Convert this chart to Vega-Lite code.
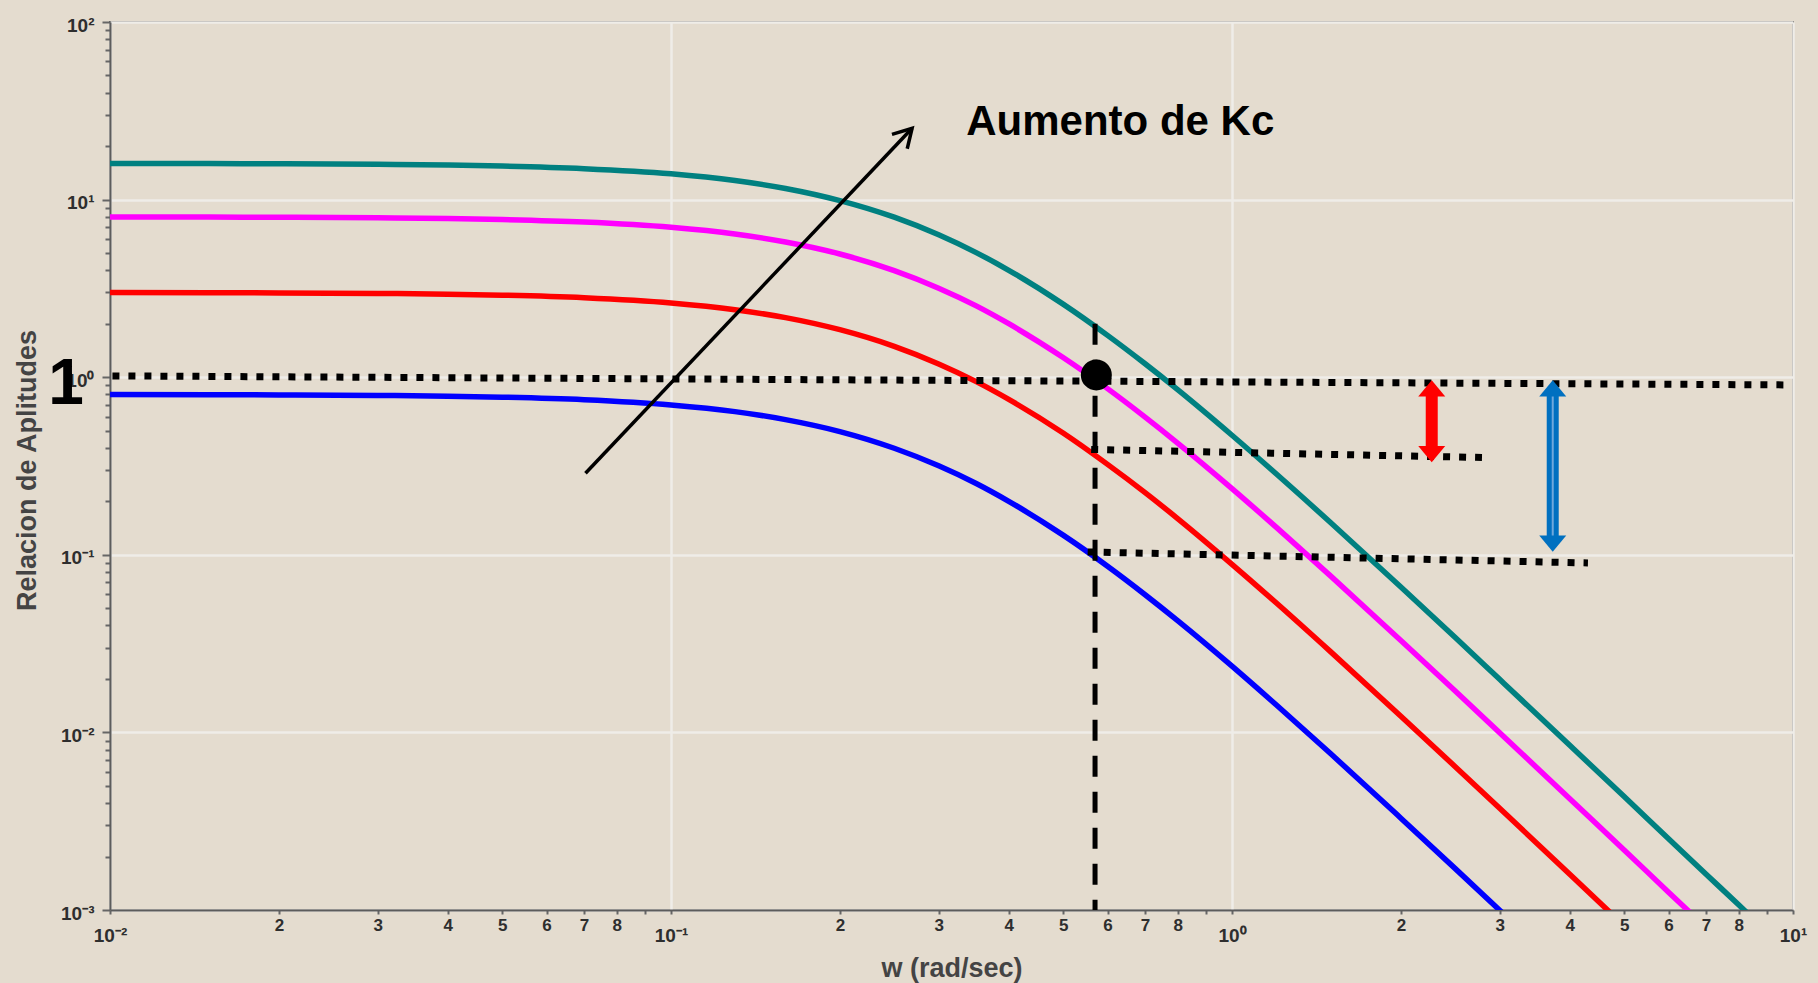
{
  "$schema": "https://vega.github.io/schema/vega-lite/v6.json",
  "width": 1683,
  "height": 888,
  "autosize": {"type": "none"},
  "padding": {"left": 110, "top": 22, "right": 25, "bottom": 73},
  "background": "#E4DCCF",
  "config": {
    "view": {"stroke": "#5c5c5c", "strokeWidth": 2, "fill": "#E4DCCF"},
    "font": "Liberation Sans"
  },
  "datasets": {
    "curvas": [
      {"w": 0.01, "ar": 0.799, "serie": "azul"}, {"w": 0.015, "ar": 0.797, "serie": "azul"}, {"w": 0.02, "ar": 0.795, "serie": "azul"}, {"w": 0.03, "ar": 0.79, "serie": "azul"}, {"w": 0.04, "ar": 0.782, "serie": "azul"}, {"w": 0.05, "ar": 0.772, "serie": "azul"}, {"w": 0.07, "ar": 0.747, "serie": "azul"}, {"w": 0.1, "ar": 0.698, "serie": "azul"}, {"w": 0.13, "ar": 0.64, "serie": "azul"}, {"w": 0.16, "ar": 0.577, "serie": "azul"}, {"w": 0.2, "ar": 0.494, "serie": "azul"}, {"w": 0.25, "ar": 0.398, "serie": "azul"}, {"w": 0.3, "ar": 0.317, "serie": "azul"}, {"w": 0.35, "ar": 0.252, "serie": "azul"}, {"w": 0.4, "ar": 0.2, "serie": "azul"}, {"w": 0.5, "ar": 0.129, "serie": "azul"}, {"w": 0.6, "ar": 0.0862, "serie": "azul"}, {"w": 0.7, "ar": 0.0596, "serie": "azul"}, {"w": 0.8, "ar": 0.0426, "serie": "azul"}, {"w": 1.0, "ar": 0.0236, "serie": "azul"}, {"w": 1.2, "ar": 0.01426, "serie": "azul"}, {"w": 1.5, "ar": 0.00758, "serie": "azul"}, {"w": 2.0, "ar": 0.00329, "serie": "azul"}, {"w": 2.5, "ar": 0.00171, "serie": "azul"}, {"w": 3.0, "ar": 0.000997, "serie": "azul"}, {"w": 3.1, "ar": 0.000904, "serie": "azul"},
      {"w": 0.01, "ar": 2.996, "serie": "rojo"}, {"w": 0.015, "ar": 2.99, "serie": "rojo"}, {"w": 0.02, "ar": 2.983, "serie": "rojo"}, {"w": 0.03, "ar": 2.962, "serie": "rojo"}, {"w": 0.04, "ar": 2.933, "serie": "rojo"}, {"w": 0.05, "ar": 2.897, "serie": "rojo"}, {"w": 0.07, "ar": 2.802, "serie": "rojo"}, {"w": 0.1, "ar": 2.619, "serie": "rojo"}, {"w": 0.13, "ar": 2.4, "serie": "rojo"}, {"w": 0.16, "ar": 2.165, "serie": "rojo"}, {"w": 0.2, "ar": 1.851, "serie": "rojo"}, {"w": 0.25, "ar": 1.492, "serie": "rojo"}, {"w": 0.3, "ar": 1.188, "serie": "rojo"}, {"w": 0.35, "ar": 0.944, "serie": "rojo"}, {"w": 0.4, "ar": 0.75, "serie": "rojo"}, {"w": 0.5, "ar": 0.485, "serie": "rojo"}, {"w": 0.6, "ar": 0.323, "serie": "rojo"}, {"w": 0.7, "ar": 0.224, "serie": "rojo"}, {"w": 0.8, "ar": 0.16, "serie": "rojo"}, {"w": 1.0, "ar": 0.0884, "serie": "rojo"}, {"w": 1.2, "ar": 0.0535, "serie": "rojo"}, {"w": 1.5, "ar": 0.0284, "serie": "rojo"}, {"w": 2.0, "ar": 0.01234, "serie": "rojo"}, {"w": 2.5, "ar": 0.00641, "serie": "rojo"}, {"w": 3.0, "ar": 0.00374, "serie": "rojo"}, {"w": 4.0, "ar": 0.00159, "serie": "rojo"}, {"w": 5.0, "ar": 0.000816, "serie": "rojo"},
      {"w": 0.01, "ar": 7.99, "serie": "magenta"}, {"w": 0.015, "ar": 7.97, "serie": "magenta"}, {"w": 0.02, "ar": 7.95, "serie": "magenta"}, {"w": 0.03, "ar": 7.9, "serie": "magenta"}, {"w": 0.04, "ar": 7.82, "serie": "magenta"}, {"w": 0.05, "ar": 7.72, "serie": "magenta"}, {"w": 0.07, "ar": 7.47, "serie": "magenta"}, {"w": 0.1, "ar": 6.98, "serie": "magenta"}, {"w": 0.13, "ar": 6.4, "serie": "magenta"}, {"w": 0.16, "ar": 5.77, "serie": "magenta"}, {"w": 0.2, "ar": 4.94, "serie": "magenta"}, {"w": 0.25, "ar": 3.98, "serie": "magenta"}, {"w": 0.3, "ar": 3.17, "serie": "magenta"}, {"w": 0.35, "ar": 2.52, "serie": "magenta"}, {"w": 0.4, "ar": 2.0, "serie": "magenta"}, {"w": 0.5, "ar": 1.29, "serie": "magenta"}, {"w": 0.6, "ar": 0.862, "serie": "magenta"}, {"w": 0.7, "ar": 0.596, "serie": "magenta"}, {"w": 0.8, "ar": 0.426, "serie": "magenta"}, {"w": 1.0, "ar": 0.236, "serie": "magenta"}, {"w": 1.2, "ar": 0.1426, "serie": "magenta"}, {"w": 1.5, "ar": 0.0758, "serie": "magenta"}, {"w": 2.0, "ar": 0.0329, "serie": "magenta"}, {"w": 2.5, "ar": 0.0171, "serie": "magenta"}, {"w": 3.0, "ar": 0.00997, "serie": "magenta"}, {"w": 4.0, "ar": 0.00423, "serie": "magenta"}, {"w": 5.0, "ar": 0.00218, "serie": "magenta"}, {"w": 6.0, "ar": 0.00126, "serie": "magenta"}, {"w": 7.0, "ar": 0.000796, "serie": "magenta"},
      {"w": 0.01, "ar": 15.98, "serie": "verde"}, {"w": 0.015, "ar": 15.95, "serie": "verde"}, {"w": 0.02, "ar": 15.91, "serie": "verde"}, {"w": 0.03, "ar": 15.8, "serie": "verde"}, {"w": 0.04, "ar": 15.64, "serie": "verde"}, {"w": 0.05, "ar": 15.45, "serie": "verde"}, {"w": 0.07, "ar": 14.94, "serie": "verde"}, {"w": 0.1, "ar": 13.97, "serie": "verde"}, {"w": 0.13, "ar": 12.8, "serie": "verde"}, {"w": 0.16, "ar": 11.55, "serie": "verde"}, {"w": 0.2, "ar": 9.87, "serie": "verde"}, {"w": 0.25, "ar": 7.96, "serie": "verde"}, {"w": 0.3, "ar": 6.34, "serie": "verde"}, {"w": 0.35, "ar": 5.03, "serie": "verde"}, {"w": 0.4, "ar": 4.0, "serie": "verde"}, {"w": 0.5, "ar": 2.58, "serie": "verde"}, {"w": 0.6, "ar": 1.72, "serie": "verde"}, {"w": 0.7, "ar": 1.19, "serie": "verde"}, {"w": 0.8, "ar": 0.851, "serie": "verde"}, {"w": 1.0, "ar": 0.471, "serie": "verde"}, {"w": 1.2, "ar": 0.285, "serie": "verde"}, {"w": 1.5, "ar": 0.1515, "serie": "verde"}, {"w": 2.0, "ar": 0.0658, "serie": "verde"}, {"w": 2.5, "ar": 0.0342, "serie": "verde"}, {"w": 3.0, "ar": 0.0199, "serie": "verde"}, {"w": 4.0, "ar": 0.00846, "serie": "verde"}, {"w": 5.0, "ar": 0.00435, "serie": "verde"}, {"w": 6.0, "ar": 0.00252, "serie": "verde"}, {"w": 7.0, "ar": 0.00159, "serie": "verde"}, {"w": 8.0, "ar": 0.00107, "serie": "verde"}, {"w": 9.0, "ar": 0.00075, "serie": "verde"}
    ],
    "punteadas": [
      {"id": "a", "w": 0.0101, "ar": 1.017}, {"id": "a", "w": 9.7, "ar": 0.905},
      {"id": "b", "w": 0.561, "ar": 0.392}, {"id": "b", "w": 2.79, "ar": 0.353},
      {"id": "c", "w": 0.553, "ar": 0.1038}, {"id": "c", "w": 4.31, "ar": 0.09}
    ],
    "vertical": [{"w": 0.57, "ar": 2.0}, {"w": 0.57, "ar": 0.001}],
    "punto": [{"w": 0.573, "ar": 1.03}],
    "ejes": [
      {"w": 2.27, "ar": 0.8, "ar2": 0.398, "flecha": "flecha roja"},
      {"w": 3.73, "ar": 0.8, "ar2": 0.1247, "flecha": "flecha azul"}
    ],
    "puntas": [
      {"w": 2.27, "ar": 0.961, "dir": "arriba", "flecha": "flecha roja"},
      {"w": 2.27, "ar": 0.332, "dir": "abajo", "flecha": "flecha roja"},
      {"w": 3.73, "ar": 0.961, "dir": "arriba", "flecha": "flecha azul"},
      {"w": 3.73, "ar": 0.104, "dir": "abajo", "flecha": "flecha azul"}
    ],
    "flechanegra": [{"w": 0.0704, "ar": 0.288}, {"w": 0.269, "ar": 25.2}],
    "puntanegra": [{"w": 0.269, "ar": 25.2}],
    "rotulo": [{"w": 0.336, "ar": 23.0, "texto": "Aumento de Kc"}],
    "uno": [{"w": 0.01, "ar": 1, "texto": "1"}]
  },
  "encoding": {
    "x": {
      "field": "w",
      "type": "quantitative",
      "scale": {"type": "log", "domain": [0.01, 10], "nice": false},
      "axis": {
        "title": "w (rad/sec)",
        "values": [0.01, 0.02, 0.03, 0.04, 0.05, 0.06, 0.07, 0.08, 0.09, 0.1, 0.2, 0.3, 0.4, 0.5, 0.6, 0.7, 0.8, 0.9, 1, 2, 3, 4, 5, 6, 7, 8, 9, 10],
        "labelExpr": "abs(log(datum.value)/LN10 - round(log(datum.value)/LN10)) < 0.000001 ? (round(log(datum.value)/LN10) == -2 ? '10⁻²' : round(log(datum.value)/LN10) == -1 ? '10⁻¹' : round(log(datum.value)/LN10) == 0 ? '10⁰' : '10¹') : (round(datum.value / pow(10, floor(log(datum.value)/LN10 + 0.000001))) == 9 ? '' : '' + round(datum.value / pow(10, floor(log(datum.value)/LN10 + 0.000001))))",
        "labelFont": "Liberation Sans",
        "labelFontWeight": "bold",
        "labelFontSize": {"condition": {"test": "abs(log(datum.value)/LN10 - round(log(datum.value)/LN10)) < 0.000001", "value": 19}, "value": 17},
        "labelColor": "#2e2e2e",
        "labelOverlap": false,
        "labelFlush": false,
        "labelPadding": {"condition": {"test": "abs(log(datum.value)/LN10 - round(log(datum.value)/LN10)) < 0.000001", "value": 12}, "value": 3},
        "tickSize": 4,
        "tickWidth": 2,
        "tickColor": "#666666",
        "domainColor": "#5c5c5c",
        "domainWidth": 2,
        "grid": true,
        "gridColor": "#EFEDE8",
        "gridWidth": 2.5,
        "gridOpacity": {"condition": {"test": "abs(log(datum.value)/LN10 - round(log(datum.value)/LN10)) < 0.000001", "value": 1}, "value": 0},
        "titleFont": "Liberation Sans",
        "titleFontSize": 27,
        "titleFontWeight": "bold",
        "titleColor": "#444444",
        "titleX": 841.5,
        "titleY": 66,
        "titleAlign": "center",
        "titleBaseline": "alphabetic"
      }
    },
    "y": {
      "field": "ar",
      "type": "quantitative",
      "scale": {"type": "log", "domain": [0.001, 100], "nice": false},
      "axis": {
        "title": "Relacion de Aplitudes",
        "values": [0.001, 0.002, 0.003, 0.004, 0.005, 0.006, 0.007, 0.008, 0.009, 0.01, 0.02, 0.03, 0.04, 0.05, 0.06, 0.07, 0.08, 0.09, 0.1, 0.2, 0.3, 0.4, 0.5, 0.6, 0.7, 0.8, 0.9, 1, 2, 3, 4, 5, 6, 7, 8, 9, 10, 20, 30, 40, 50, 60, 70, 80, 90, 100],
        "labelExpr": "abs(log(datum.value)/LN10 - round(log(datum.value)/LN10)) < 0.000001 ? (round(log(datum.value)/LN10) == -3 ? '10⁻³' : round(log(datum.value)/LN10) == -2 ? '10⁻²' : round(log(datum.value)/LN10) == -1 ? '10⁻¹' : round(log(datum.value)/LN10) == 0 ? '10⁰' : round(log(datum.value)/LN10) == 1 ? '10¹' : '10²') : ''",
        "labelFont": "Liberation Sans",
        "labelFontWeight": "bold",
        "labelFontSize": 19,
        "labelColor": "#2e2e2e",
        "labelOverlap": false,
        "labelFlush": false,
        "labelPadding": 8,
        "labelOffset": 3,
        "tickSize": {"condition": {"test": "abs(log(datum.value)/LN10 - round(log(datum.value)/LN10)) < 0.000001", "value": 8}, "value": 5},
        "tickWidth": 2,
        "tickColor": "#666666",
        "domainColor": "#5c5c5c",
        "domainWidth": 2,
        "grid": true,
        "gridColor": "#EFEDE8",
        "gridWidth": 2.5,
        "gridOpacity": {"condition": {"test": "abs(log(datum.value)/LN10 - round(log(datum.value)/LN10)) < 0.000001", "value": 1}, "value": 0},
        "titleFont": "Liberation Sans",
        "titleFontSize": 27,
        "titleFontWeight": "bold",
        "titleColor": "#444444",
        "titleAngle": -90,
        "titleX": -75,
        "titleY": 448,
        "titleAlign": "center",
        "titleBaseline": "alphabetic"
      }
    }
  },
  "layer": [
    {
      "data": {"name": "curvas"},
      "mark": {"type": "line", "strokeWidth": 5.5, "clip": true, "interpolate": "monotone"},
      "encoding": {
        "color": {"field": "serie", "type": "nominal", "scale": {"domain": ["azul", "rojo", "magenta", "verde", "flecha roja", "flecha azul"], "range": ["#0000FF", "#FF0000", "#FF00FF", "#008080", "#FF0000", "#0070C0"]}, "legend": null},
        "detail": {"field": "serie", "type": "nominal"}
      }
    },
    {
      "data": {"name": "vertical"},
      "mark": {"type": "line", "color": "#000000", "strokeWidth": 5, "strokeDash": [21, 15]},
      "encoding": {}
    },
    {
      "data": {"name": "punteadas"},
      "mark": {"type": "line", "color": "#000000", "strokeWidth": 7, "strokeDash": [7, 9], "strokeCap": "butt"},
      "encoding": {"detail": {"field": "id", "type": "nominal"}}
    },
    {
      "data": {"name": "punto"},
      "mark": {"type": "circle", "color": "#000000", "size": 960, "opacity": 1}
    },
    {
      "data": {"name": "ejes"},
      "mark": {"type": "rule", "strokeWidth": 12},
      "encoding": {
        "y2": {"field": "ar2"},
        "color": {"field": "flecha", "type": "nominal", "scale": {"domain": ["azul", "rojo", "magenta", "verde", "flecha roja", "flecha azul"], "range": ["#0000FF", "#FF0000", "#FF00FF", "#008080", "#FF0000", "#0070C0"]}, "legend": null}
      }
    },
    {
      "data": {"name": "ejes"},
      "transform": [{"filter": "datum.flecha == 'flecha azul'"}],
      "mark": {"type": "rule", "strokeWidth": 2, "color": "#6FA8DC"},
      "encoding": {"y2": {"field": "ar2"}}
    },
    {
      "data": {"name": "puntas"},
      "mark": {"type": "point", "filled": true, "size": 729, "opacity": 1, "strokeWidth": 0},
      "encoding": {
        "shape": {"field": "dir", "type": "nominal", "scale": {"domain": ["arriba", "abajo"], "range": ["M0,0L1,1.2L-1,1.2Z", "M0,0L1,-1.2L-1,-1.2Z"]}, "legend": null},
        "color": {"field": "flecha", "type": "nominal", "scale": {"domain": ["azul", "rojo", "magenta", "verde", "flecha roja", "flecha azul"], "range": ["#0000FF", "#FF0000", "#FF00FF", "#008080", "#FF0000", "#0070C0"]}, "legend": null}
      }
    },
    {
      "data": {"name": "flechanegra"},
      "mark": {"type": "line", "color": "#000000", "strokeWidth": 3.5},
      "encoding": {}
    },
    {
      "data": {"name": "puntanegra"},
      "mark": {"type": "point", "shape": "M-0.5,0.866L0,0L0.5,0.866", "filled": false, "color": "#000000", "strokeWidth": 3.5, "size": 1764, "angle": 43.4, "opacity": 1}
    },
    {
      "data": {"name": "rotulo"},
      "mark": {"type": "text", "font": "Liberation Sans", "fontWeight": "bold", "fontSize": 42, "align": "left", "baseline": "alphabetic", "color": "#000000"},
      "encoding": {"text": {"field": "texto"}}
    },
    {
      "data": {"name": "uno"},
      "mark": {"type": "text", "font": "Liberation Sans", "fontWeight": "bold", "fontSize": 64, "align": "center", "baseline": "alphabetic", "color": "#000000", "dx": -44, "dy": 27},
      "encoding": {"text": {"field": "texto"}}
    }
  ]
}
